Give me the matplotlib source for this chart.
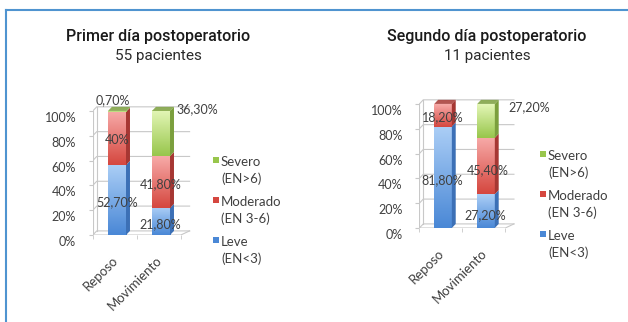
import numpy as np
import matplotlib.pyplot as plt
from matplotlib.colors import LinearSegmentedColormap
from matplotlib.patches import Polygon, Rectangle
from matplotlib.lines import Line2D
from matplotlib.transforms import ScaledTranslation

# datos
categorias = ['Reposo', 'Movimiento']
series = ['Leve\n(EN<3)', 'Moderado\n(EN 3-6)', 'Severo\n(EN>6)']

dia1_leve = [52.7, 21.8]
dia1_moderado = [40.0, 41.8]
dia1_severo = [0.7, 36.3]

dia2_leve = [81.8, 27.2]
dia2_moderado = [18.2, 45.4]
dia2_severo = [0.0, 27.2]

titulos = ['Primer día postoperatorio', 'Segundo día postoperatorio']
subtitulos = ['55 pacientes', '11 pacientes']
yticks = [0, 20, 40, 60, 80, 100]

# (abajo, arriba, lateral)
colores = [('#4a88d6', '#abcef6', '#3c70b6'),
           ('#d5473f', '#f7aaa8', '#a63733'),
           ('#98c64c', '#e3f6b6', '#7b9f3d')]

W, H = 628, 322
GRIS = '#404040'
LINEA = '#c8c8c8'
FONT = 'Lato'

ANCHO = 0.41
DX, DY = 0.09, 3.3
XL = -0.55


def fmt(v):
    if float(v).is_integer():
        return f'{int(v)}%'
    return f'{v:.2f}'.replace('.', ',') + '%'


def px(x, y):
    return x / W, 1 - y / H


def dibujar(ax, valores, desplaz):
    ax.set_xlim(XL, 1.8)
    ax.set_ylim(0, 108)
    for s in ax.spines.values():
        s.set_visible(False)

    # paredes y rejilla
    xr = 1.65
    for t in yticks:
        ax.plot([XL, XL + DX, xr], [t, t + DY, t + DY], color=LINEA, lw=0.8, zorder=1)
    ax.plot([XL, XL], [0, 100], color=LINEA, lw=0.8, zorder=1)
    ax.plot([XL + DX, XL + DX], [DY, 100 + DY], color=LINEA, lw=0.8, zorder=1)
    ax.plot([XL, 1.45, xr], [0, 0, DY], color=LINEA, lw=0.8, zorder=1)

    valores = np.array(valores, dtype=float)
    totales = valores.sum(axis=0)
    alturas = valores / totales * 100
    x = np.arange(len(categorias))

    base = np.zeros(len(categorias))
    for i, serie in enumerate(series):
        bajo, alto, lado = colores[i]
        cmap = LinearSegmentedColormap.from_list('g%d' % i, [bajo, alto])
        for j in range(len(categorias)):
            h = alturas[i, j]
            if h <= 0:
                continue
            x0 = x[j] - ANCHO / 2
            y0 = base[j]
            grad = np.linspace(0, 1, 64).reshape(-1, 1)
            ax.imshow(grad, extent=[x0, x0 + ANCHO, y0, y0 + h], origin='lower',
                      cmap=cmap, aspect='auto', zorder=3, interpolation='bilinear')
            ax.add_patch(Polygon([(x0 + ANCHO, y0), (x0 + ANCHO + DX, y0 + DY),
                                  (x0 + ANCHO + DX, y0 + h + DY), (x0 + ANCHO, y0 + h)],
                                 closed=True, facecolor=lado, edgecolor='none', zorder=3))
            if i == len(series) - 1 or alturas[i + 1:, j].sum() == 0:
                top = y0 + h
                ax.add_patch(Polygon([(x0, top), (x0 + DX, top + DY),
                                      (x0 + ANCHO + DX, top + DY), (x0 + ANCHO, top)],
                                     closed=True, facecolor=lado, edgecolor='none',
                                     alpha=0.85, zorder=3))
            ox, oy = desplaz.get((j, i), (0, -2))
            if (j, i) in desplaz and desplaz[(j, i)][0] > 20:
                ty = y0 + h
            elif h < 5:
                ty = y0 + h
            else:
                ty = y0 + h / 2
            ax.annotate(fmt(valores[i, j]), (x[j], ty), xytext=(ox, oy),
                        textcoords='offset pixels', ha='center', va='center',
                        fontsize=9, family=FONT, color=GRIS, zorder=5,
                        annotation_clip=False)
        base += alturas[i]

    ax.set_yticks(yticks)
    ax.set_yticklabels([f'{t}%' for t in yticks], family=FONT, fontsize=9, color=GRIS)
    ax.tick_params(axis='y', length=3, color=LINEA, pad=9)
    bajar = ScaledTranslation(0, -6 / 100, fig.dpi_scale_trans)
    for lab in ax.get_yticklabels():
        lab.set_transform(lab.get_transform() + bajar)
    ax.set_xticks(x)
    ax.set_xticklabels(categorias, rotation=45, ha='right', rotation_mode='anchor',
                       family=FONT, fontsize=9.5, color=GRIS)
    ax.tick_params(axis='x', length=0, pad=14)
    izq = ScaledTranslation(-5 / 100, 0, fig.dpi_scale_trans)
    for lab in ax.get_xticklabels():
        lab.set_transform(lab.get_transform() + izq)
    ax.set_xticks([XL, XL + 1, XL + 2], minor=True)
    ax.tick_params(axis='x', which='minor', length=3, color=LINEA)


fig = plt.figure(figsize=(W / 100, H / 100), dpi=100)

ax1 = fig.add_axes([92.8 / W, 1 - 235 / H, 103.4 / W, 134 / H])
dibujar(ax1, [dia1_leve, dia1_moderado, dia1_severo],
        {(0, 2): (-4, 11), (1, 2): (36, 2), (1, 0): (-1, -3)})

ax2 = fig.add_axes([419.4 / W, 1 - 228 / H, 101 / W, 134 / H])
dibujar(ax2, [dia2_leve, dia2_moderado, dia2_severo],
        {(1, 2): (43, -3), (1, 0): (-1, -4), (1, 1): (2, -4), (0, 0): (-1, -3)})

# titulos
for cx, t, s in zip([158, 487], titulos, subtitulos):
    fig.text(*px(cx, 36), t, ha='center', va='center', fontsize=11.5,
             family='Roboto', fontweight='medium', color='#1a1a1a')
    fig.text(*px(cx, 56), s, ha='center', va='center', fontsize=11,
             family='Roboto', fontweight='normal', color='#2a2a2a')

# leyendas
for lx, ly in [(213, 160), (540, 154)]:
    for k, i in enumerate(reversed(range(len(series)))):
        yy = ly + k * 40
        x0, y0 = px(lx, yy + 3)
        fig.patches.append(Rectangle((x0, y0), 6 / W, 6 / H, transform=fig.transFigure,
                                     facecolor=colores[i][0], edgecolor='none'))
        fig.text(*px(lx + 8, yy - 4), series[i], ha='left', va='top', fontsize=9.5,
                 family=FONT, color=GRIS, linespacing=1.45)

# marco
azul = '#4f94d0'
fig.add_artist(Line2D([6 / W, 1], [1 - 10 / H, 1 - 10 / H], color=azul, lw=1.5,
                      transform=fig.transFigure))
fig.add_artist(Line2D([6 / W, 6 / W], [0, 1 - 10 / H], color=azul, lw=1.5,
                      transform=fig.transFigure))

fig.savefig('out.png', dpi=100)
